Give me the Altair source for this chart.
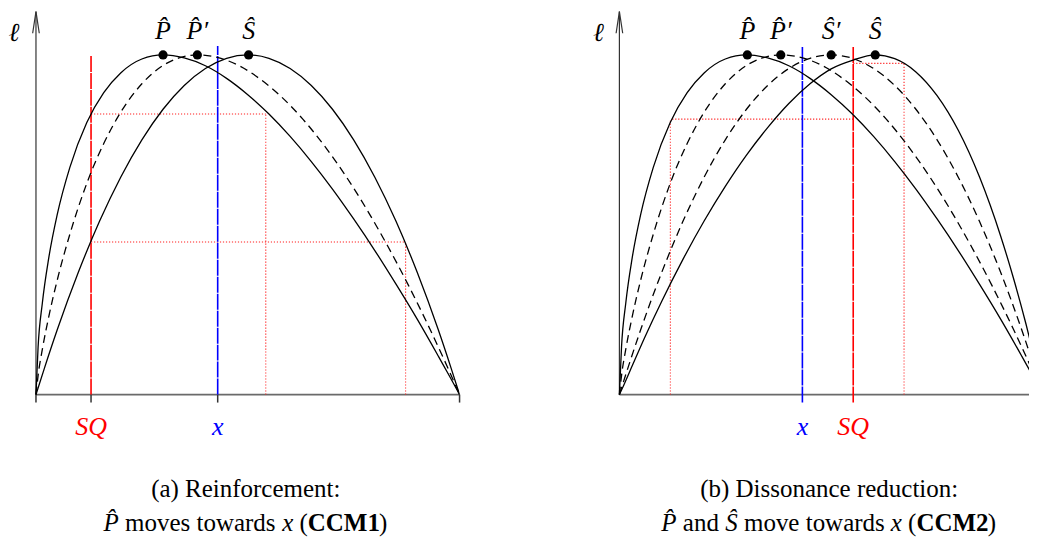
import altair as alt
import pandas as pd

# ---------------- data ----------------
# t: position on the policy line (0 = left end, 1 = right end); v: utility l (1 = peak)
T_P = [0, 0.005, 0.015, 0.03, 0.05, 0.08, 0.12, 0.16, 0.20, 0.25, 0.30, 0.35, 0.40, 0.45,
       0.50, 0.55, 0.60, 0.65, 0.70, 0.75, 0.80, 0.85, 0.90, 0.95, 0.98, 1.0]
V_P = [0, 0.140, 0.269, 0.401, 0.529, 0.669, 0.801, 0.889, 0.947, 0.988, 1.0, 0.991, 0.968, 0.931,
       0.883, 0.826, 0.760, 0.686, 0.605, 0.517, 0.424, 0.325, 0.222, 0.113, 0.046, 0]

T_P2 = [0, 0.005, 0.015, 0.03, 0.05, 0.08, 0.12, 0.16, 0.20, 0.25, 0.30, 0.34, 0.381, 0.43,
        0.48, 0.53, 0.58, 0.63, 0.68, 0.73, 0.78, 0.83, 0.88, 0.93, 0.97, 1.0]
V_P2 = [0, 0.056, 0.133, 0.228, 0.336, 0.472, 0.622, 0.739, 0.831, 0.915, 0.969, 0.992, 1.0, 0.992,
        0.968, 0.928, 0.876, 0.811, 0.734, 0.646, 0.547, 0.438, 0.320, 0.193, 0.085, 0]

T_S = [0, 0.02, 0.05, 0.10, 0.15, 0.20, 0.25, 0.30, 0.35, 0.40, 0.45, 0.50, 0.55, 0.60, 0.65,
       0.70, 0.75, 0.80, 0.85, 0.90, 0.95, 0.98, 1.0]
V_S = [0, 0.078, 0.19, 0.36, 0.51, 0.64, 0.75, 0.84, 0.91, 0.96, 0.99, 1.0, 0.99, 0.96, 0.91,
       0.84, 0.75, 0.64, 0.51, 0.36, 0.19, 0.078, 0]

T_S2 = [0, 0.01, 0.03, 0.06, 0.10, 0.15, 0.20, 0.25, 0.30, 0.35, 0.40, 0.45, 0.50, 0.55, 0.604,
        0.65, 0.70, 0.75, 0.80, 0.85, 0.90, 0.93, 0.96, 0.98, 1.0]
V_S2 = [0, 0.027, 0.084, 0.169, 0.275, 0.398, 0.511, 0.613, 0.705, 0.786, 0.857, 0.915, 0.959, 0.984, 1.0,
        0.989, 0.950, 0.880, 0.778, 0.641, 0.467, 0.344, 0.207, 0.107, 0]

# panel (a): reinforcement
A_SQ, A_X = 0.130, 0.429
A_PEAKS = [0.300, 0.381, 0.502]
A_LABELS = ["P\u0302", "P\u0302\u2032", "\u015C"]
A_LEVELS = [0.826, 0.449]      # utility of SQ for P and for S
A_MATCH = [0.5425, 0.8726]     # other point with the same utility
# panel (b): dissonance reduction
B_SQ, B_X = 0.552, 0.432
B_PEAKS = [0.302, 0.381, 0.500, 0.604]
B_LABELS = ["P\u0302", "P\u0302\u2032", "\u015C\u2032", "\u015C"]
B_LEVELS = [0.811, 0.975]
B_MATCH = [0.1203, 0.672]

SERIF = "Liberation Serif"
FS = 25      # caption text
FM = 26      # math labels
Y_DOM = [-0.42441, 1.12853]
H = 528


def df(**cols):
    return pd.DataFrame(cols)


def panel(xdom, width, solid, dashed, peaks, labels, sq, xpos, levels, matches,
          ticks, colored_ticks, lab_x, cap1, cap1_x, cap2):
    xs = alt.Scale(domain=xdom, nice=False, zero=False)
    ys = alt.Scale(domain=Y_DOM, nice=False, zero=False)

    def X(f):
        return alt.X(f, type="quantitative", scale=xs, axis=None)

    def Y(f):
        return alt.Y(f, type="quantitative", scale=ys, axis=None)

    layers = []
    xmax = min(1.0, xdom[1])
    # axes
    layers.append(alt.Chart(df(a=[0.0], b=[xmax], y=[0.0])).mark_rule(color="#6a6a6a", strokeWidth=1.8)
                  .encode(x=X("a"), x2="b", y=Y("y")))
    layers.append(alt.Chart(df(x=[0.0], a=[0.0], b=[1.1276])).mark_rule(color="#333333", strokeWidth=1.2)
                  .encode(x=X("x"), y=Y("a"), y2="b"))
    layers.append(alt.Chart(df(x=[-0.0078, 0.0, 0.0078], y=[1.0638, 1.1276, 1.0638]))
                  .mark_line(color="#333333", strokeWidth=1.2).encode(x=X("x"), y=Y("y")))
    if ticks:
        layers.append(alt.Chart(df(x=ticks, a=[0.0] * len(ticks), b=[-0.0235] * len(ticks)))
                      .mark_rule(color="#333333", strokeWidth=1.5).encode(x=X("x"), y=Y("a"), y2="b"))
    # dotted indifference guides
    hx = [sq, sq]
    layers.append(alt.Chart(df(a=hx, b=matches, y=levels)).mark_rule(
        color="#ff2020", strokeWidth=1.1, strokeDash=[1.2, 1.8])
        .encode(x=X("a"), x2="b", y=Y("y")))
    layers.append(alt.Chart(df(x=matches, a=[0.0, 0.0], b=levels)).mark_rule(
        color="#ff2020", strokeWidth=1.1, strokeDash=[1.2, 1.8])
        .encode(x=X("x"), y=Y("a"), y2="b"))
    # SQ and x lines
    low = -0.0235 if colored_ticks else 0.0
    sq_top = 1.0 if not colored_ticks else 1.026
    layers.append(alt.Chart(df(x=[sq], a=[low], b=[sq_top])).mark_rule(
        color="#ff0000", strokeWidth=1.6, strokeDash=[16, 1])
        .encode(x=X("x"), y=Y("a"), y2="b"))
    layers.append(alt.Chart(df(x=[xpos], a=[low], b=[1.026])).mark_rule(
        color="#0000ff", strokeWidth=1.6, strokeDash=[16, 1])
        .encode(x=X("x"), y=Y("a"), y2="b"))
    # curves
    for t, v in solid:
        layers.append(alt.Chart(df(t=t, v=v)).mark_line(
            color="black", strokeWidth=1.3, interpolate="monotone", clip=True)
            .encode(x=X("t"), y=Y("v")))
    for t, v in dashed:
        layers.append(alt.Chart(df(t=t, v=v)).mark_line(
            color="black", strokeWidth=1.3, strokeDash=[8, 5], interpolate="monotone", clip=True)
            .encode(x=X("t"), y=Y("v")))
    # ideal points
    layers.append(alt.Chart(df(t=peaks, v=[1.0] * len(peaks))).mark_circle(
        color="black", size=85, opacity=1).encode(x=X("t"), y=Y("v")))
    layers.append(alt.Chart(df(t=peaks, s=labels)).mark_text(
        font=SERIF, fontSize=FM, fontStyle="italic", baseline="alphabetic", align="center")
        .encode(x=X("t"), y=alt.value(28), text="s:N"))
    # axis labels
    layers.append(alt.Chart(df(t=[sq], s=["SQ"])).mark_text(
        font=SERIF, fontSize=FM, fontStyle="italic", color="#ff0000", baseline="alphabetic")
        .encode(x=X("t"), y=alt.value(424), text="s:N"))
    layers.append(alt.Chart(df(t=[xpos], s=["x"])).mark_text(
        font=SERIF, fontSize=FM, fontStyle="italic", color="#0000ff", baseline="alphabetic")
        .encode(x=X("t"), y=alt.value(424), text="s:N"))
    layers.append(alt.Chart(df(s=["\u2113"])).mark_text(
        font=SERIF, fontSize=FM, fontStyle="italic", baseline="alphabetic")
        .encode(x=alt.value(lab_x), y=alt.value(30), text="s:N"))
    # caption
    layers.append(alt.Chart(df(s=[cap1])).mark_text(
        font=SERIF, fontSize=FS, baseline="alphabetic", align="center")
        .encode(x=alt.value(cap1_x), y=alt.value(486), text="s:N"))
    for style, rows in cap2.items():
        kw = {}
        if style == "italic":
            kw["fontStyle"] = "italic"
        if style == "bold":
            kw["fontWeight"] = "bold"
        layers.append(alt.Chart(df(s=[r[0] for r in rows], px=[r[1] for r in rows])).mark_text(
            font=SERIF, fontSize=FS, baseline="alphabetic", align="left", **kw)
            .encode(x=alt.X("px:Q", scale=None), y=alt.value(520), text="s:N"))
    return alt.layer(*layers).properties(width=width, height=H)


# caption line 2 pieces: (text, left edge in px) -- widths from font metrics at 25px
panel_a = panel(
    xdom=[-28 / 424, 1.0], width=452,
    solid=[(T_P, V_P), (T_S, V_S)], dashed=[(T_P2, V_P2)],
    peaks=A_PEAKS, labels=A_LABELS, sq=A_SQ, xpos=A_X, levels=A_LEVELS, matches=A_MATCH,
    ticks=[0.0, A_SQ, A_X, 1.0], colored_ticks=False, lab_x=6,
    cap1="(a) Reinforcement:", cap1_x=238,
    cap2={"italic": [("P\u0302", 95.7), ("x", 274.4)],
          "roman": [("moves towards", 117.2), ("(", 291.8), (")", 371.4)],
          "bold": [("CCM1", 300.1)]},
)
panel_b = panel(
    xdom=[-40 / 424, 410 / 424], width=450,
    solid=[(T_P, V_P), (T_S2, V_S2)], dashed=[(T_P2, V_P2), (T_S, V_S)],
    peaks=B_PEAKS, labels=B_LABELS, sq=B_SQ, xpos=B_X, levels=B_LEVELS, matches=B_MATCH,
    ticks=[], colored_ticks=True, lab_x=19,
    cap1="(b) Dissonance reduction:", cap1_x=250,
    cap2={"italic": [("P\u0302", 82.0), ("\u015C", 146.0), ("x", 311.6)],
          "roman": [("and", 103.5), ("move towards", 164.7), ("(", 329.0), (")", 408.6)],
          "bold": [("CCM2", 337.3)]},
)

chart = alt.hconcat(panel_a, panel_b, spacing=120, bounds="flush").properties(
    autosize=alt.AutoSizeParams(type="pad"), padding=0
).configure_view(stroke=None)

chart.save("out.html", embed_options={"renderer": "svg", "actions": False})
